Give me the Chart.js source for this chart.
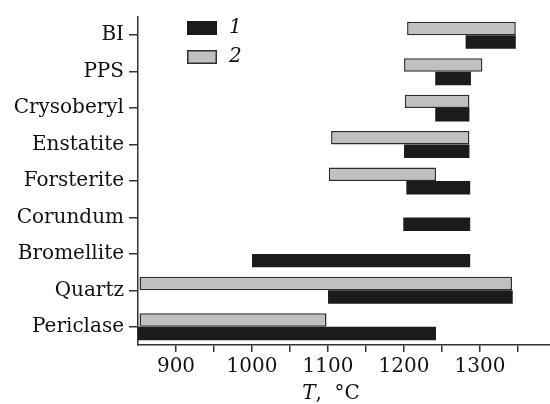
<!DOCTYPE html>
<html>
<head>
<meta charset="utf-8">
<script src="https://cdn.jsdelivr.net/npm/chart.js@4.4.1/dist/chart.umd.min.js"></script>
<style>
  html, body { margin: 0; padding: 0; background: #fff; }
  #wrap { width: 550px; height: 404px; }
</style>
</head>
<body>
<div id="wrap"><canvas id="myChart"></canvas></div>
<script>
// categories, top to bottom
var categories = ['BI', 'PPS', 'Crysoberyl', 'Enstatite', 'Forsterite', 'Corundum', 'Bromellite', 'Quartz', 'Periclase'];

// series 1 (black) - start / end temperatures, deg C
var series1Start = [1281, 1241, 1241, 1200, 1203, 1199, 1000, 1100, 850];
var series1End   = [1347, 1288, 1286, 1286, 1287, 1287, 1287, 1343, 1242];

// series 2 (grey) - start / end temperatures, deg C
var series2Start = [1204, 1200, 1201, 1104, 1101, null, null, 852, 852];
var series2End   = [1347, 1303, 1286, 1286, 1242, null, null, 1342, 1098];

// x axis ticks (minor ticks every 50, labels every 100)
var xTicks = [900, 950, 1000, 1050, 1100, 1150, 1200, 1250, 1300, 1350];

var serif = "'DejaVu Serif', 'Liberation Serif', serif";
var axisColor = '#333';
var textColor = '#111';

function pairs(a, b) {
    return a.map(function (v, i) {
        return v === null ? null : [v, b[i]];
    });
}

// legend + axis title drawn inside the chart, like the figure
var extras = {
    id: 'extras',
    afterDraw: function (chart) {
        var ctx = chart.ctx;
        var ds = chart.data.datasets;
        var items = [ds[1], ds[0]];
        ctx.save();
        items.forEach(function (d, i) {
            var y = 21 + i * 29;
            ctx.fillStyle = d.backgroundColor;
            ctx.fillRect(187, y, 30, 14);
            if (d.borderWidth) {
                ctx.strokeStyle = d.borderColor;
                ctx.lineWidth = 1.5;
                ctx.strokeRect(187.75, y + 0.75, 28.5, 12.5);
            }
            ctx.fillStyle = textColor;
            ctx.font = 'italic 20px ' + serif;
            ctx.textBaseline = 'middle';
            ctx.textAlign = 'left';
            ctx.fillText(d.label, 229, y + 7);
        });

        // axis title "T, °C" with italic T
        var x = chart.scales.x;
        var start = x.getPixelForValue(1066);
        ctx.textBaseline = 'alphabetic';
        ctx.font = 'italic 20px ' + serif;
        ctx.fillText('T', start, 399);
        var w1 = ctx.measureText('T').width;
        ctx.font = '20px ' + serif;
        ctx.fillText(',  °C', start + w1, 399);
        ctx.restore();
    }
};

var ctx = document.getElementById('myChart').getContext('2d');
var myChart = new Chart(ctx, {
    type: 'bar',
    data: {
        labels: categories,
        datasets: [{
            label: '2',
            data: pairs(series2Start, series2End),
            backgroundColor: '#c0c0c0',
            borderColor: '#2e2e2e',
            borderWidth: 1.5,
            borderSkipped: false
        },
        {
            label: '1',
            data: pairs(series1Start, series1End),
            backgroundColor: '#1b1b1b',
            borderWidth: 0
        }]
    },
    options: {
        indexAxis: 'y',
        responsive: true,
        maintainAspectRatio: false,
        animation: false,
        devicePixelRatio: 1,
        layout: {
            padding: { top: 13, right: 0, left: 0, bottom: 0 }
        },
        datasets: {
            bar: {
                barPercentage: 1,
                categoryPercentage: 0.74,
                grouped: true
            }
        },
        plugins: {
            legend: { display: false },
            tooltip: { enabled: false }
        },
        scales: {
            x: {
                min: 850,
                max: 1392,
                afterBuildTicks: function (scale) {
                    scale.ticks = xTicks.map(function (v) { return { value: v }; });
                },
                afterFit: function (scale) {
                    scale.height = 59;
                },
                grid: {
                    drawOnChartArea: false,
                    drawTicks: true,
                    tickLength: 7,
                    color: axisColor,
                    lineWidth: 1.5
                },
                border: { display: true, color: axisColor, width: 1.5 },
                ticks: {
                    autoSkip: false,
                    maxRotation: 0,
                    padding: 3,
                    color: textColor,
                    font: { family: serif, size: 20 },
                    callback: function (v) {
                        return v % 100 === 0 ? String(v) : '';
                    }
                }
            },
            y: {
                afterFit: function (scale) {
                    scale.width = 138;
                },
                grid: {
                    offset: false,
                    drawOnChartArea: false,
                    drawTicks: true,
                    tickLength: 9,
                    color: axisColor,
                    lineWidth: 1.5
                },
                border: { display: true, color: axisColor, width: 1.5 },
                ticks: {
                    padding: 5,
                    color: textColor,
                    font: { family: serif, size: 20 }
                }
            }
        }
    },
    plugins: [extras]
});
</script>
</body>
</html>
